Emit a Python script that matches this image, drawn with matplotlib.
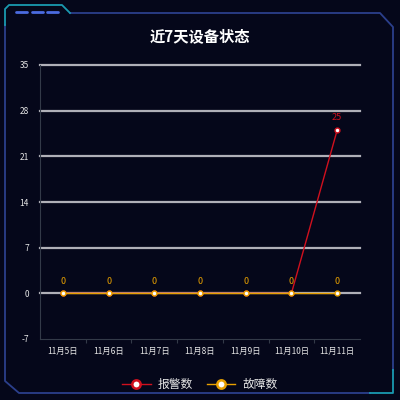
import matplotlib
matplotlib.use('Agg')
import matplotlib.pyplot as plt

plt.rcParams['font.family'] = ['Noto Sans CJK SC', 'DejaVu Sans']

days = ['11月5日', '11月6日', '11月7日', '11月8日', '11月9日', '11月10日', '11月11日']
alarms = [0, 0, 0, 0, 0, 0, 25]
faults = [0, 0, 0, 0, 0, 0, 0]
yticks = [-7, 0, 7, 14, 21, 28, 35]

bg = '#05071a'
red = '#d0101e'
orange = '#e8a000'

fig = plt.figure(figsize=(4, 4), dpi=100, facecolor=bg)

# frame decoration in pixel coords
deco = fig.add_axes([0, 0, 1, 1], zorder=0)
deco.set_xlim(0, 400)
deco.set_ylim(400, 0)
deco.axis('off')
frame = '#2b3f8c'
teal = '#1a9ab0'
deco.plot([5, 5, 19, 370], [25, 381, 393, 393], color=frame, lw=1.3)
deco.plot([70, 380, 393, 393], [13, 13, 27, 370], color=frame, lw=1.3)
deco.plot([5, 5, 9, 62, 70], [25, 9, 5, 5, 13], color=teal, lw=1.3)
deco.plot([393, 393, 370], [370, 393, 393], color=teal, lw=1.3)
for x0 in (16, 32, 47):
    deco.plot([x0, x0 + 11], [12, 12], color='#4b6be0', lw=2, solid_capstyle='round')

ax = fig.add_axes([0.1, 0.1525, 0.8, 0.685], zorder=1)
ax.set_facecolor('none')
x = range(len(days))

ax.plot(x, alarms, color=red, lw=1, marker='o', ms=3.5,
        mfc='white', mec=red, mew=1, label='报警数', zorder=3)
ax.plot(x, faults, color=orange, lw=1, marker='o', ms=3.5,
        mfc='white', mec=orange, mew=1, label='故障数', zorder=4)

for i, v in enumerate(alarms):
    if v != 0:
        ax.text(i, v + 1.2, str(v), color=red, fontsize=6.5, ha='center', va='bottom')
for i, v in enumerate(faults):
    ax.text(i, v + 1.2, str(v), color=orange, fontsize=6.5, ha='center', va='bottom', zorder=5)

ax.set_xlim(-0.5, len(days) - 0.5)
ax.set_ylim(-7, 35)
ax.set_yticks(yticks)
ax.set_yticklabels([str(t) for t in yticks], color='#e6e6e6', fontsize=6)
for t in yticks[1:]:
    ax.axhline(t, color='#b0b0b8', lw=1.6, zorder=1, clip_on=False)

ax.set_xticks([i + 0.5 for i in range(len(days) - 1)], minor=False)
ax.set_xticklabels([])
ax.set_xticks(list(x), minor=True)
ax.set_xticklabels(days, minor=True, color='#e6e6e6', fontsize=6)
ax.tick_params(axis='x', which='minor', length=0, pad=6)
ax.tick_params(axis='x', which='major', length=3, color='#333a48')
ax.tick_params(axis='y', length=0, pad=8)

for s in ['top', 'right']:
    ax.spines[s].set_visible(False)
ax.spines['left'].set_color('#333a48')
ax.spines['bottom'].set_color('#333a48')

fig.text(0.5, 0.91, '近7天设备状态', color='white', fontsize=11,
         fontweight='bold', ha='center', va='center')

leg = ax.legend(loc='upper center', bbox_to_anchor=(0.5, -0.105), ncol=2,
                frameon=False, fontsize=8.5, handlelength=2.4, columnspacing=1.2,
                handletextpad=0.6)
for h, c in zip(leg.legend_handles, [red, orange]):
    h.set_markersize(6)
    h.set_markeredgewidth(1.8)
    h.set_markeredgecolor(c)
for t in leg.get_texts():
    t.set_color('#e6e6e6')

plt.savefig('out.png', facecolor=bg)
